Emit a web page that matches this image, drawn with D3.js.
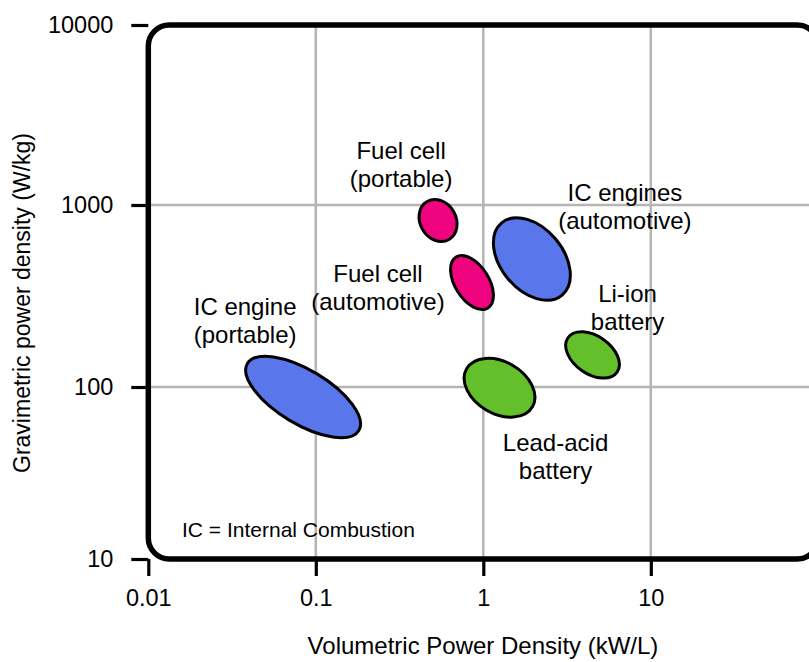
<!DOCTYPE html>
<html>
<head>
<meta charset="utf-8">
<script src="https://cdn.jsdelivr.net/npm/d3@7"></script>
<style>
  html, body { margin: 0; padding: 0; background: #fff; }
  svg { display: block; font-family: "Liberation Sans", Arial, sans-serif; }
</style>
</head>
<body>
<svg id="chart" width="809" height="662"></svg>
<script>
// Technologies, each drawn as a tilted ellipse in log–log space
const technologies = ["IC engine (portable)", "Fuel cell (portable)", "Fuel cell (automotive)",
                      "IC engines (automotive)", "Lead-acid battery", "Li-ion battery"];
const labelLines = [["IC engine", "(portable)"], ["Fuel cell", "(portable)"], ["Fuel cell", "(automotive)"],
                    ["IC engines", "(automotive)"], ["Lead-acid", "battery"], ["Li-ion", "battery"]];
const kinds = ["combustion", "fuelcell", "fuelcell", "combustion", "battery", "battery"];
// centre of each region: volumetric (kW/L) and gravimetric (W/kg) power density
const volumetric = [0.084, 0.537, 0.856, 1.95, 1.25, 4.49];
const gravimetric = [87.5, 822, 375, 505, 99, 150];
// half-extent of each region along its long and short axes, in decades
const spanMajor = [0.388, 0.131, 0.179, 0.281, 0.227, 0.179];
const spanMinor = [0.161, 0.107, 0.101, 0.185, 0.155, 0.113];
const tilt = [31, 60, 58, 50, 30, 35];

const xTicks = [0.01, 0.1, 1, 10];
const yTicks = [10, 100, 1000, 10000];

// styling / layout
const fills = { combustion: "#5a76eb", fuelcell: "#f0037f", battery: "#63bf2a" };
const labelOffsets = [[-58, -90], [-37, -70], [-94, -9], [93, -66], [56, 55], [35, -61]];
const lineGap = 28;
const fontStack = "'Liberation Sans', Arial, sans-serif";

const svg = d3.select("#chart");

const x = d3.scaleLog().domain([0.01, 100]).range([148.3, 818.3]);
const y = d3.scaleLog().domain([10, 100, 1000, 10000]).range([559, 387, 205, 25]);

// grid
const grid = svg.append("g").attr("stroke", "#b5b5b5").attr("stroke-width", 2.5);
grid.selectAll("line.gx").data(xTicks.slice(1)).join("line")
  .attr("x1", d => x(d)).attr("x2", d => x(d))
  .attr("y1", y(10000)).attr("y2", y(10));
grid.selectAll("line.gy").data(yTicks.slice(1, -1)).join("line")
  .attr("x1", x(0.01)).attr("x2", x(100))
  .attr("y1", d => y(d)).attr("y2", d => y(d));

// axes
const fmt = d => String(d);
const xAxis = svg.append("g").attr("transform", `translate(0,${y(10)})`)
  .call(d3.axisBottom(x).tickValues(xTicks).tickFormat(fmt).tickSize(17).tickPadding(13));
const yAxis = svg.append("g").attr("transform", `translate(${x(0.01)},0)`)
  .call(d3.axisLeft(y).tickValues(yTicks).tickFormat(fmt).tickSize(17).tickPadding(18));
[xAxis, yAxis].forEach(g => {
  g.select(".domain").remove();
  g.selectAll(".tick line").attr("stroke", "#000").attr("stroke-width", 3.2);
  g.selectAll(".tick text").attr("fill", "#000").style("font-size", "23.5px")
    .style("font-family", fontStack);
});

// regions
const regions = svg.append("g").selectAll("ellipse").data(technologies).join("ellipse")
  .attr("cx", 0).attr("cy", 0)
  .attr("rx", (d, i) => x(volumetric[i] * Math.pow(10, spanMajor[i])) - x(volumetric[i]))
  .attr("ry", (d, i) => x(volumetric[i] * Math.pow(10, spanMinor[i])) - x(volumetric[i]))
  .attr("transform", (d, i) => `translate(${x(volumetric[i])},${y(gravimetric[i])}) rotate(${tilt[i]})`)
  .attr("fill", (d, i) => fills[kinds[i]])
  .attr("stroke", "#000").attr("stroke-width", 3);

// region labels
const labels = svg.append("g").attr("font-size", 24).attr("text-anchor", "middle").attr("fill", "#000");
technologies.forEach((t, i) => {
  const cx = x(volumetric[i]) + labelOffsets[i][0];
  const cy = y(gravimetric[i]) + labelOffsets[i][1];
  labelLines[i].forEach((line, j) => {
    labels.append("text").attr("x", cx).attr("y", cy + j * lineGap).attr("dy", "0.35em").text(line);
  });
});

// frame
svg.append("rect")
  .attr("x", x(0.01)).attr("y", y(10000))
  .attr("width", x(100) - x(0.01)).attr("height", y(10) - y(10000))
  .attr("rx", 21).attr("ry", 21)
  .attr("fill", "none").attr("stroke", "#000").attr("stroke-width", 5.5);

// note
svg.append("text").attr("x", 182).attr("y", 530).attr("dy", "0.35em")
  .attr("font-size", 21).text("IC = Internal Combustion");

// axis titles
svg.append("text").attr("x", 483).attr("y", 646).attr("dy", "0.35em")
  .attr("text-anchor", "middle").attr("font-size", 24).text("Volumetric Power Density (kW/L)");
svg.append("text").attr("transform", "translate(22,303) rotate(-90)").attr("dy", "0.35em")
  .attr("text-anchor", "middle").attr("font-size", 23).text("Gravimetric power density (W/kg)");
</script>
</body>
</html>
